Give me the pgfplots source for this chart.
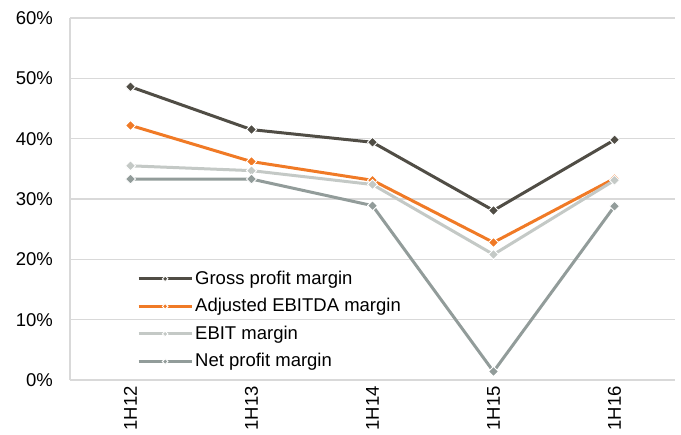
\documentclass[border=0pt]{standalone}
\usepackage{fontspec}
\setmainfont{Liberation Sans}
\usepackage{pgfplots}
\pgfplotsset{compat=1.18}
\definecolor{cGross}{RGB}{80,77,69}
\definecolor{cAdj}{RGB}{240,122,38}
\definecolor{cEbit}{RGB}{196,201,198}
\definecolor{cNet}{RGB}{146,156,154}
\definecolor{cGrid}{RGB}{217,217,217}
\begin{document}
\fontsize{18.5}{22}\selectfont
\begin{tikzpicture}
\begin{axis}[
  scale only axis,
  width=605pt, height=362pt,
  xmin=-0.5, xmax=4.5,
  ymin=0, ymax=60,
  xtick={0,1,2,3,4},
  xticklabels={1H12,1H13,1H14,1H15,1H16},
  ytick={0,10,20,30,40,50,60},
  yticklabels={0\%,10\%,20\%,30\%,40\%,50\%,60\%},
  axis lines=left,
  axis line style={-, draw=cGrid, line width=1.3pt},
  ymajorgrids,
  grid style={draw=cGrid, line width=1.3pt},
  major tick length=0pt,
  tick style={draw=none},
  yticklabel style={anchor=east, inner sep=0pt, xshift=-17pt, font=\fontsize{18.5}{22}\selectfont},
  xticklabel style={rotate=90, anchor=east, inner sep=0pt, font=\fontsize{18.5}{22}\selectfont},
  xticklabel shift=6pt,
  clip=false,
  every axis plot/.append style={line width=3pt, mark=square*, mark size=3.54pt},
  mk/.style={mark options={fill=#1, draw=white, rotate=45, line width=0.9pt}},
  legend style={at={(rel axis cs:0.1107,0.308)}, anchor=north west, draw=none, fill=none,
     inner sep=0pt, row sep=7.4pt, font=\fontsize{18.5}{22}\selectfont,
     nodes={inner sep=2pt}},
  legend cell align=left,
  legend image code/.code={
    \draw[line width=3pt, mark repeat=2, mark phase=2, mark size=2pt]
      plot coordinates {(0pt,0pt) (26.5pt,0pt) (53pt,0pt)};
  },
]
\addplot[color=cGross, mk=cGross] coordinates {(0,48.6) (1,41.5) (2,39.4) (3,28.1) (4,39.8)};
\addlegendentry{Gross profit margin}
\addplot[color=cAdj, mk=cAdj] coordinates {(0,42.2) (1,36.2) (2,33.1) (3,22.8) (4,33.4)};
\addlegendentry{Adjusted EBITDA margin}
\addplot[color=cEbit, mk=cEbit] coordinates {(0,35.5) (1,34.7) (2,32.4) (3,20.8) (4,33.1)};
\addlegendentry{EBIT margin}
\addplot[color=cNet, mk=cNet] coordinates {(0,33.3) (1,33.3) (2,28.9) (3,1.4) (4,28.8)};
\addlegendentry{Net profit margin}
\path (rel axis cs:0,0) ++(-70pt,-55pt) coordinate (bbA);
\path (rel axis cs:1,1) ++(6pt,18pt) coordinate (bbB);
\path (bbA) rectangle (bbB);
\end{axis}
\end{tikzpicture}
\end{document}
